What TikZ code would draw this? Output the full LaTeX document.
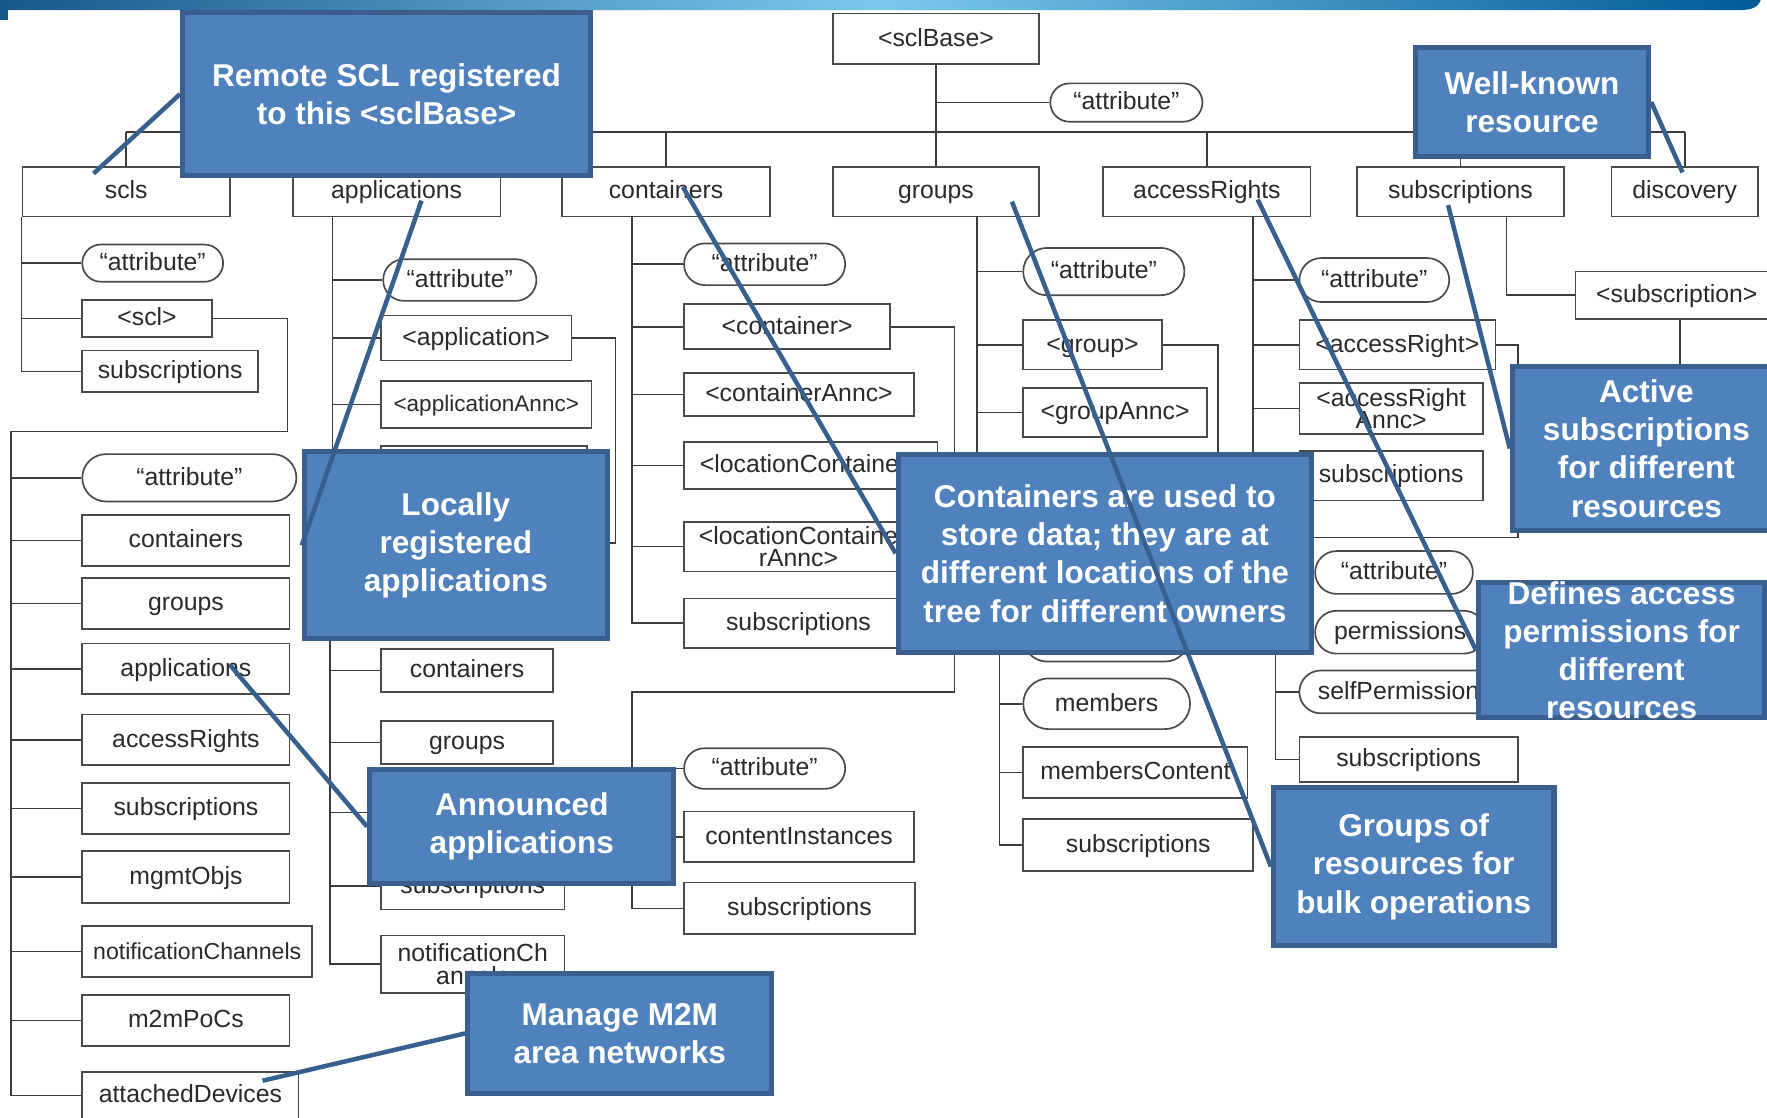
\documentclass[tikz,border=0pt]{standalone}
\usepackage{fontspec}
\setmainfont{Liberation Sans}
\usetikzlibrary{calc}

\definecolor{calloutfill}{HTML}{4F81BD}
\definecolor{calloutedge}{HTML}{3A5F8F}
\definecolor{pointercol}{HTML}{37608F}
\definecolor{treeline}{HTML}{3C3C3C}
\definecolor{boxedge}{HTML}{4A4A4A}
\definecolor{labelcol}{HTML}{2A2A2A}
\definecolor{barleft}{HTML}{17598A}
\definecolor{barmid}{HTML}{7CC7EC}
\definecolor{barright}{HTML}{005A96}

\newcommand\treefont{\fontsize{22}{20}\selectfont}
\newcommand\notefont{\fontsize{28}{34}\selectfont\bfseries}

\tikzset{
  tl/.style={draw=treeline, line width=1.4pt},
  box/.style={draw=boxedge, line width=1.5pt, fill=white, inner sep=0pt,
              font=\treefont, text=labelcol, align=center},
  oneline/.style={text height=16.5pt, text depth=3.5pt},
  callout/.style={draw=calloutedge, fill=calloutfill, line width=4.5pt, inner sep=0pt},
  ctext/.style={text=white, font=\notefont, align=center, inner sep=0pt},
  pointer/.style={draw=pointercol, line width=4pt},
  plainlabel/.style={font=\treefont, text=labelcol, inner sep=0pt, oneline}
}

% rectangular resource box from its corners: name, x1, y1, x2, y2, text
\newcommand\bx[6]{%
  \node[box, oneline, minimum width={(#4)-(#2)}, minimum height={(#5)-(#3)}]
    (#1) at ({((#2)+(#4))/2},{((#3)+(#5))/2}) {#6};}
% the same for a label set on two lines
\newcommand\bxtwo[6]{%
  \node[box, minimum width={(#4)-(#2)}, minimum height={(#5)-(#3)}]
    (#1) at ({((#2)+(#4))/2},{((#3)+(#5))/2}) {#6};}
% rounded attribute box from its corners
\newcommand\pl[6]{%
  \pgfmathsetmacro\pillr{((#5)-(#3))/2}%
  \node[box, oneline, rounded corners=\pillr pt, minimum width={(#4)-(#2)}, minimum height={(#5)-(#3)}]
    (#1) at ({((#2)+(#4))/2},{((#3)+(#5))/2}) {#6};}

\begin{document}
\begin{tikzpicture}[x=1pt,y=-1pt]
\useasboundingbox (0,0) rectangle (1568,992);

% header band
\shade[left color=barleft, right color=barright, middle color=barmid]
  (0,-2) -- (1563,-2) .. controls (1561,6) and (1556,9) .. (1542,9) -- (0,9) -- cycle;
\fill[barleft] (0,0) rectangle (7,18);

% ---------- resource boxes ----------
\bx{sclBase}{739}{12}{922}{57}{<sclBase>}
\pl{rootattr}{932}{74}{1067}{108}{“attribute"}

\bx{scls}{20}{148}{204}{192}{scls}
\bx{apps}{260}{148}{444}{192}{applications}
\bx{conts}{499}{148}{683}{192}{containers}
\bx{grps}{739}{148}{922}{192}{groups}
\bx{acrs}{979}{148}{1163}{192}{accessRights}
\bx{subs}{1204}{148}{1388}{192}{subscriptions}
\bx{disc}{1430}{148}{1560}{192}{discovery}

% scls
\pl{sclsattr}{73}{217}{198}{250}{“attribute"}
\bx{scl}{73}{266}{188}{299}{<scl>}
\bx{sclssubs}{73}{311}{229}{348}{subscriptions}

% <scl>
\pl{sattr}{73}{403}{263}{445}{“attribute"}
\bx{scont}{73}{457}{257}{502}{containers}
\bx{sgrp}{73}{513}{257}{558}{groups}
\bx{sapp}{73}{571}{257}{616}{applications}
\bx{sacr}{73}{634}{257}{679}{accessRights}
\bx{ssub}{73}{695}{257}{740}{subscriptions}
\bx{smgmt}{73}{755}{257}{801}{mgmtObjs}
\bx{snot}{73}{822}{277}{867}{{\fontsize{20.5}{20}\selectfont notificationChannels}}
\bx{sm2m}{73}{883}{257}{928}{m2mPoCs}
\bx{satt}{73}{951}{265}{1001}{}
\node[plainlabel] (sattlabel) at (169,972) {attachedDevices};

% applications
\pl{appattr}{340}{230}{476}{267}{“attribute"}
\bx{app}{338}{280}{507}{320}{<application>}
\bx{appannc}{338}{338}{525}{380}{{\fontsize{20}{20}\selectfont <applicationAnnc>}}
\bx{appsubs}{338}{396}{521}{438}{}

% <application>
\bx{acont}{338}{576}{491}{614}{containers}
\bx{agrp}{338}{640}{491}{678}{groups}
\bx{aacr}{338}{700}{500}{742}{}
\bx{asub}{338}{765}{501}{807}{subscriptions}
\bxtwo{anot}{338}{830}{501}{881}{notificationCh\\annels}

% containers
\pl{cattr}{607}{216}{750}{253}{“attribute"}
\bx{cont}{607}{270}{790}{310}{<container>}
\bx{cannc}{607}{331}{811}{369}{<containerAnnc>}
\bx{cloc}{607}{392}{832}{434}{<locationContainer>}
\bxtwo{clocannc}{607}{463}{810}{507}{<locationContaine\\rAnnc>}
\bx{csub}{607}{531}{810}{575}{subscriptions}

% <container>
\pl{kattr}{607}{664}{750}{700}{“attribute"}
\bx{kci}{607}{720}{811}{765}{contentInstances}
\bx{ksub}{607}{783}{812}{829}{subscriptions}

% groups
\pl{gattr}{908}{220}{1051}{262}{“attribute"}
\bx{grp}{908}{284}{1031}{328}{<group>}
\bx{gannc}{908}{344}{1071}{388}{<groupAnnc>}

% <group>
\pl{hattr}{908}{545}{1055}{587}{}
\pl{hmem}{908}{602}{1056}{647}{members}
\bx{hmc}{908}{663}{1107}{708}{membersContent}
\bx{hsub}{908}{727}{1112}{773}{subscriptions}

% accessRights
\pl{rattr}{1153}{229}{1286}{268}{“attribute"}
\bx{acr}{1153}{284}{1327}{328}{<accessRight>}
\bxtwo{acrannc}{1153}{340}{1316}{385}{<accessRight\\Annc>}
\bx{rsub}{1153}{400}{1316}{444}{subscriptions}

% <accessRight>
\pl{qattr}{1167}{489}{1307}{527}{“attribute"}
\pl{qperm}{1167}{542}{1318}{580}{permissions}
\pl{qself}{1153}{595}{1340}{633}{selfPermissions}
\bx{qsub}{1153}{654}{1347}{694}{subscriptions}

% subscriptions
\bx{subscr}{1398}{241}{1578}{283}{<subscription>}

% ---------- tree connectors ----------
\draw[tl] (sclBase) -- (grps);
\draw[tl] (sclBase.south |- rootattr.west) -- (rootattr.west);
\coordinate (bus) at (0,117);
\draw[tl] (scls.north |- bus) -- (disc.north |- bus);
\foreach \n in {scls,apps,conts,acrs,subs,disc}
  \draw[tl] (\n.north |- bus) -- (\n.north);

% scls
\draw[tl] (scls.south west) |- (sclssubs.west);
\foreach \n in {sclsattr,scl}
  \draw[tl] (scls.south west |- \n.west) -- (\n.west);

% <scl>
\coordinate (sclturn) at (255,383);
\coordinate (sclspine) at (10,383);
\draw[tl] (scl.east) -| (sclturn) -- (sclspine) |- (satt.west |- sattlabel);
\foreach \n in {sattr,scont,sgrp,sapp,sacr,ssub,smgmt,snot,sm2m}
  \draw[tl] (sclspine |- \n.west) -- (\n.west);

% applications
\coordinate (appspine) at (295,192);
\draw[tl] (appspine) |- (appsubs.west);
\foreach \n in {appattr,app,appannc}
  \draw[tl] (appspine |- \n.west) -- (\n.west);

% <application>
\coordinate (appturn) at (546,482);
\coordinate (appspine2) at (293,482);
\draw[tl] (app.east) -| (appturn) -- (appspine2) |- (anot.west);
\foreach \n in {acont,agrp,aacr,asub}
  \draw[tl] (appspine2 |- \n.west) -- (\n.west);

% containers
\coordinate (contspine) at (561,192);
\draw[tl] (contspine) |- (csub.west);
\foreach \n in {cattr,cont,cannc,cloc,clocannc}
  \draw[tl] (contspine |- \n.west) -- (\n.west);

% <container>
\coordinate (contturn) at (847,614);
\coordinate (contspine2) at (561,614);
\draw[tl] (cont.east) -| (contturn) -- (contspine2) |- (ksub.west);
\foreach \n in {kattr,kci}
  \draw[tl] (contspine2 |- \n.west) -- (\n.west);

% groups
\coordinate (grpspine) at (867,192);
\coordinate (grpspineend) at (867,425);
\draw[tl] (grpspine) -- (grpspineend);
\foreach \n in {gattr,grp,gannc}
  \draw[tl] (grpspine |- \n.west) -- (\n.west);

% <group>
\coordinate (grpturn) at (1081,535);
\coordinate (grpspine2) at (887,535);
\draw[tl] (grp.east) -| (grpturn) -- (grpspine2) |- (hsub.west);
\foreach \n in {hattr,hmem,hmc}
  \draw[tl] (grpspine2 |- \n.west) -- (\n.west);

% accessRights
\coordinate (acrspine) at (1112,192);
\draw[tl] (acrspine) |- (rsub.west);
\foreach \n in {rattr,acr,acrannc}
  \draw[tl] (acrspine |- \n.west) -- (\n.west);

% <accessRight>
\coordinate (acrturn) at (1347,477);
\coordinate (acrspine2) at (1132,477);
\draw[tl] (acr.east) -| (acrturn) -- (acrspine2) |- (qsub.west);
\foreach \n in {qattr,qperm,qself}
  \draw[tl] (acrspine2 |- \n.west) -- (\n.west);

% subscriptions
\coordinate (subsdrop) at (1337,192);
\draw[tl] (subsdrop) |- (subscr.west);
\coordinate (subscrend) at (1491,345);
\draw[tl] (subscr.south -| subscrend) -- (subscrend);

% ---------- callouts ----------
\node[callout, minimum width=362, minimum height=145] (c1) at (343,83.5) {};
\node[ctext] (c1t) at (c1) {Remote SCL registered\\to this <sclBase>};
\node[callout, minimum width=207, minimum height=97] (c2) at (1359.5,90.5) {};
\node[ctext] (c2t) at (c2) {Well-known\\resource};
\node[callout, minimum width=269, minimum height=166] (c3) at (404.5,484) {};
\node[ctext] (c3t) at (c3) {Locally\\registered\\applications};
\node[callout, minimum width=367, minimum height=176] (c4) at (980.5,491) {};
\node[ctext] (c4t) at (c4) {Containers are used to\\store data; they are at\\different locations of the\\tree for different owners};
\node[callout, minimum width=238, minimum height=146] (c5) at (1461,398) {};
\node[ctext] (c5t) at (c5) {Active\\subscriptions\\for different\\resources};
\node[callout, minimum width=254, minimum height=120] (c6) at (1439,577) {};
\node[ctext] (c6t) at (c6) {Defines access\\permissions for\\different\\resources};
\node[callout, minimum width=270, minimum height=101] (c7) at (463,733.5) {};
\node[ctext] (c7t) at (c7) {Announced\\applications};
\node[callout, minimum width=249, minimum height=140] (c8) at (1254.5,769) {};
\node[ctext] (c8t) at (c8) {Groups of\\resources for\\bulk operations};
\node[callout, minimum width=270, minimum height=106] (c9) at (550,917) {};
\node[ctext] (c9t) at (c9) {Manage M2M\\area networks};

% ---------- callout pointers ----------
\coordinate (pscls) at (83,154);
\coordinate (pdisc) at (1493,153);
\coordinate (papp) at (374,178);
\coordinate (pcont) at (606,166);
\coordinate (psubs) at (1285,182);
\coordinate (pacr) at (1116,177);
\coordinate (psapp) at (204,590);
\coordinate (pgrp) at (898,179);
\coordinate (psatt) at (233,959);

\draw[pointer] (c1.west) -- (pscls);
\draw[pointer] (c2.east) -- (pdisc);
\draw[pointer] (papp) -- (c3.west);
\draw[pointer] (pcont) -- (c4.west);
\draw[pointer] (psubs) -- (c5.west);
\draw[pointer] (pacr) -- (c6.west);
\draw[pointer] (psapp) -- (c7.west);
\draw[pointer] (pgrp) -- (c8.west);
\draw[pointer] (psatt) -- (c9.west);
\end{tikzpicture}
\end{document}
